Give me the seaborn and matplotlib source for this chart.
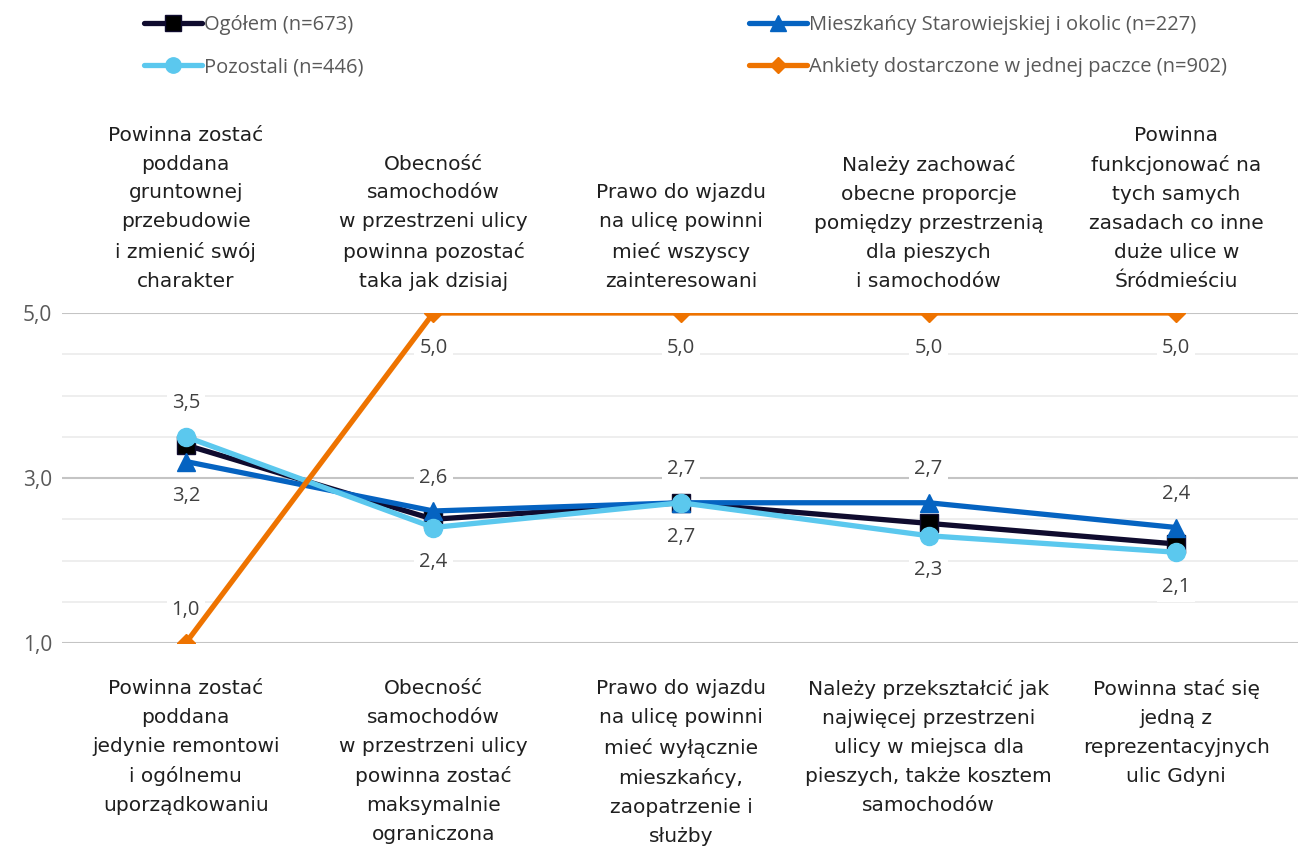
import matplotlib
matplotlib.use("Agg")
import matplotlib.pyplot as plt
import seaborn as sns
import pandas as pd
from matplotlib.lines import Line2D
from matplotlib.ticker import MultipleLocator

# Statements (upper end of the scale = 5, lower end = 1)
top_labels = [
    "Powinna zostać\npoddana\ngruntownej\nprzebudowie\ni zmienić swój\ncharakter",
    "Obecność\nsamochodów\nw przestrzeni ulicy\npowinna pozostać\ntaka jak dzisiaj",
    "Prawo do wjazdu\nna ulicę powinni\nmieć wszyscy\nzainteresowani",
    "Należy zachować\nobecne proporcje\npomiędzy przestrzenią\ndla pieszych\ni samochodów",
    "Powinna\nfunkcjonować na\ntych samych\nzasadach co inne\nduże ulice w\nŚródmieściu",
]
bottom_labels = [
    "Powinna zostać\npoddana\njedynie remontowi\ni ogólnemu\nuporządkowaniu",
    "Obecność\nsamochodów\nw przestrzeni ulicy\npowinna zostać\nmaksymalnie\nograniczona",
    "Prawo do wjazdu\nna ulicę powinni\nmieć wyłącznie\nmieszkańcy,\nzaopatrzenie i\nsłużby",
    "Należy przekształcić jak\nnajwięcej przestrzeni\nulicy w miejsca dla\npieszych, także kosztem\nsamochodów",
    "Powinna stać się\njedną z\nreprezentacyjnych\nulic Gdyni",
]

# Mean scores per group
ogolem = [3.4, 2.5, 2.7, 2.45, 2.2]
mieszkancy = [3.2, 2.6, 2.7, 2.7, 2.4]
pozostali = [3.5, 2.4, 2.7, 2.3, 2.1]
ankiety = [1.0, 5.0, 5.0, 5.0, 5.0]

series_names = [
    "Ogółem (n=673)",
    "Mieszkańcy Starowiejskiej i okolic (n=227)",
    "Pozostali (n=446)",
    "Ankiety dostarczone w jednej paczce (n=902)",
]

x_pos = list(range(len(top_labels)))
rows = []
for name, vals in zip(series_names, [ogolem, mieszkancy, pozostali, ankiety]):
    for xi, v in zip(x_pos, vals):
        rows.append({"x": xi, "value": v, "series": name})
df = pd.DataFrame(rows)

sns.set_theme(style="white")
plt.rcParams["font.family"] = ["DejaVu Sans"]
num_font = ["Open Sans", "DejaVu Sans"]

styles = {
    series_names[0]: dict(color="#0F0B2E", marker="s", ms=13, mfc="#000000", mec="#0F0B2E", z=3),
    series_names[1]: dict(color="#0563C1", marker="^", ms=13, mfc="#0563C1", mec="#0563C1", z=4),
    series_names[2]: dict(color="#5BC8EE", marker="o", ms=13, mfc="#5BC8EE", mec="#5BC8EE", z=5),
    series_names[3]: dict(color="#EE7300", marker="D", ms=9, mfc="#EE7300", mec="#EE7300", z=6),
}

fig = plt.figure(figsize=(12.98, 8.49), dpi=100)
W, H = 1298, 849
ax = fig.add_axes([62 / W, 1 - 643 / H, (1300 - 62) / W, (643 - 313) / H])

for name in series_names:
    st = styles[name]
    sub = df[df["series"] == name]
    sns.lineplot(data=sub, x="x", y="value", ax=ax, color=st["color"], lw=3.8,
                 marker=st["marker"], markersize=st["ms"], markerfacecolor=st["mfc"],
                 markeredgecolor=st["mec"], markeredgewidth=1, sort=False,
                 zorder=st["z"], legend=False)

ax.set_xlim(-0.5, 4.5)
ax.set_ylim(1.0, 5.0)
ax.set_xlabel("")
ax.set_ylabel("")
ax.set_xticks([])
ax.yaxis.set_minor_locator(MultipleLocator(0.5))
ax.set_yticks([1.0, 3.0, 5.0])
ax.set_yticklabels([f"{v:.1f}".replace(".", ",") for v in [1.0, 3.0, 5.0]],
                   fontsize=15, color="#595959", family=num_font)
ax.tick_params(axis="y", length=0, pad=7)
ax.grid(which="minor", axis="y", color="#EDEDED", lw=1.3, zorder=0)
ax.grid(which="major", axis="y", color="#C4C4C4", lw=1.5, zorder=1)
for s in ax.spines.values():
    s.set_visible(False)
ax.set_facecolor("none")


def fmt(v):
    return f"{v:.1f}".replace(".", ",")


def put_label(xi, v, up):
    off = 24 if up else -25
    ax.annotate(fmt(v), xy=(xi, v), xytext=(0, off), textcoords="offset points",
                ha="center", va="center", fontsize=14.5, color="#404040",
                family=num_font, zorder=2.5,
                bbox=dict(boxstyle="square,pad=0.25", fc="white", ec="none"))


# Value labels: Pozostali below (first above), Mieszkańcy above (first below)
for i, v in enumerate(pozostali):
    put_label(i, v, up=(i == 0))
for i, v in enumerate(mieszkancy):
    put_label(i, v, up=(i != 0))
for i, v in enumerate(ankiety):
    put_label(i, v, up=(v < 5.0))

# Statement texts above and below the plot
for i, (t, b) in enumerate(zip(top_labels, bottom_labels)):
    ax.annotate(t, xy=(i, 5.0), xytext=(0, 16), textcoords="offset points",
                ha="center", va="bottom", fontsize=14.5, color="#1F1F1F",
                linespacing=1.66, annotation_clip=False)
    ax.annotate(b, xy=(i, 1.0), xytext=(0, -26), textcoords="offset points",
                ha="center", va="top", fontsize=14.5, color="#1F1F1F",
                linespacing=1.66, annotation_clip=False)


def handle(name):
    st = styles[name]
    return Line2D([], [], color=st["color"], lw=3.8, marker=st["marker"],
                  markersize=st["ms"] * 0.85, markerfacecolor=st["mfc"],
                  markeredgecolor=st["mec"], solid_capstyle="round")


leg_kw = dict(frameon=False, handlelength=2.9, handletextpad=0.1,
              labelspacing=1.1, borderaxespad=0,
              prop={"family": num_font, "size": 14.5})
leg1 = fig.legend([handle(series_names[0]), handle(series_names[2])],
                  [series_names[0], series_names[2]],
                  loc="upper left", bbox_to_anchor=(136 / W, 1 - 7 / H), **leg_kw)
leg2 = fig.legend([handle(series_names[1]), handle(series_names[3])],
                  [series_names[1], series_names[3]],
                  loc="upper left", bbox_to_anchor=(741 / W, 1 - 7 / H), **leg_kw)
for lg in (leg1, leg2):
    for txt in lg.get_texts():
        txt.set_color("#595959")

fig.savefig("out.png", dpi=100)
